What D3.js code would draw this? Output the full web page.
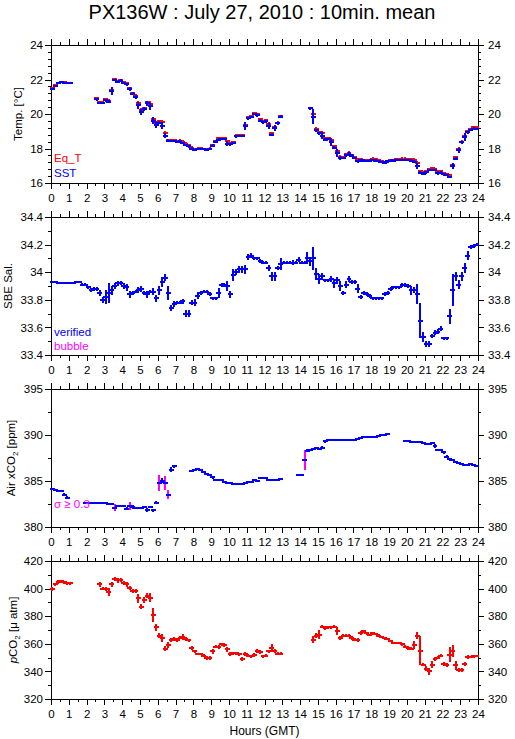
<!DOCTYPE html>
<html>
<head>
<meta charset="utf-8">
<script src="https://cdn.jsdelivr.net/npm/d3@7"></script>
<style>
body { margin: 0; background: #fff; }
svg { display: block; font-family: "Liberation Sans", Arial, Helvetica, sans-serif; }
</style>
</head>
<body>
<svg id="chart"></svg>
<script>
// 10 minute mean slots, 6 per hour, one row per hour (00:00 .. 23:50)
const slotHours = 1 / 6;
const hourLabels = [0,1,2,3,4,5,6,7,8,9,10,11,12,13,14,15,16,17,18,19,20,21,22,23,24];

const tempTicks = [16, 18, 20, 22, 24];
const salTicks = [33.4, 33.6, 33.8, 34, 34.2, 34.4];
const airTicks = [380, 385, 390, 395];
const pco2Ticks = [320, 340, 360, 380, 400, 420];

const eqT = [
  21.50, 21.68, 21.82, 21.88, 21.86, 21.80,
  21.80, null, null, null, null, null,
  null, null, null, 20.92, 20.68, 20.66,
  20.86, 20.78, 21.38, 22.02, 21.90, 21.98,
  21.85, 21.80, 21.50, 21.22, 21.05, 20.62,
  20.25, 20.32, 20.68, 20.60, 19.72, 19.48,
  19.60, 19.55, 18.90, 18.50, 18.48, 18.50,
  18.45, 18.46, 18.40, 18.28, 18.20, 18.05,
  17.98, 18.00, 18.02, 17.98, 17.98, 18.00,
  18.20, 18.45, 18.58, 18.60, 18.58, 18.42,
  18.30, 18.35, 18.75, 18.78, 18.80, 19.38,
  19.80, 19.86, 20.05, 20.00, 19.70, 19.60,
  19.65, 19.40, 18.90, 19.25, 19.50, 19.90,
  null, null, null, null, null, null,
  null, null, null, 20.36, 20.00, 19.15,
  18.95, 18.92, 18.60, 18.62, 18.48, 18.12,
  17.85, 17.52, 17.50, 17.68, 17.75, 17.62,
  17.50, 17.35, 17.40, 17.35, 17.32, 17.36,
  17.42, 17.38, 17.32, 17.28, 17.24, 17.30,
  17.34, 17.36, 17.40, 17.40, 17.42, 17.42,
  17.40, 17.38, 17.35, 17.18, 16.70, 16.62,
  16.68, 16.82, 16.85, 16.82, 16.65, 16.68,
  16.58, 16.52, 16.45, 17.05, 17.48, 17.95,
  18.40, 18.72, 19.00, 19.15, 19.22, 19.25
];
const eqTSd = [
  .04, .04, .03, .03, .03, .03,
  .03, null, null, null, null, null,
  null, null, null, .04, .04, .04,
  .04, .05, .10, .04, .04, .04,
  .04, .04, .06, .05, .06, .10,
  .08, .06, .06, .10, .10, .08,
  .05, .10, .08, .04, .04, .04,
  .04, .04, .04, .04, .04, .04,
  .03, .03, .03, .03, .03, .03,
  .05, .04, .04, .03, .03, .06,
  .05, .04, .04, .04, .04, .10,
  .05, .04, .04, .04, .05, .04,
  .04, .08, .05, .08, .05, .04,
  null, null, null, null, null, null,
  null, null, null, .04, .15, .05,
  .05, .08, .04, .04, .08, .05,
  .10, .05, .04, .05, .05, .04,
  .04, .05, .04, .04, .03, .03,
  .03, .03, .03, .03, .03, .03,
  .03, .03, .03, .03, .03, .03,
  .03, .03, .05, .08, .05, .05,
  .04, .04, .03, .03, .05, .03,
  .03, .03, .04, .08, .06, .08,
  .05, .10, .05, .03, .03, .03
];
const sst = [
  21.45, 21.62, 21.78, 21.85, 21.82, 21.78,
  21.78, null, null, null, null, null,
  null, null, null, 20.85, 20.63, 20.63,
  20.80, 20.72, 21.35, 21.97, 21.85, 21.93,
  21.78, 21.72, 21.45, 21.18, 20.98, 20.50,
  20.10, 20.28, 20.62, 20.45, 19.62, 19.35,
  19.50, 19.32, 18.75, 18.45, 18.43, 18.45,
  18.38, 18.42, 18.33, 18.20, 18.12, 18.00,
  17.92, 17.95, 17.97, 17.95, 17.92, 17.97,
  18.15, 18.40, 18.52, 18.57, 18.55, 18.28,
  18.25, 18.32, 18.70, 18.72, 18.72, 19.30,
  19.75, 19.82, 20.00, 19.93, 19.62, 19.52,
  19.58, 19.30, 18.80, 19.20, 19.45, 19.85,
  null, null, null, null, null, null,
  null, null, null, 20.32, 19.85, 19.05,
  18.88, 18.75, 18.52, 18.55, 18.35, 18.05,
  17.75, 17.45, 17.45, 17.62, 17.68, 17.58,
  17.45, 17.25, 17.32, 17.30, 17.28, 17.30,
  17.35, 17.30, 17.25, 17.20, 17.18, 17.25,
  17.30, 17.30, 17.32, 17.33, 17.35, 17.35,
  17.33, 17.30, 17.22, 17.00, 16.60, 16.55,
  16.62, 16.75, 16.75, 16.75, 16.58, 16.60,
  16.50, 16.45, 16.35, 17.00, 17.42, 17.90,
  18.35, 18.68, 18.95, 19.08, 19.15, 19.15
];
const sstSd = [
  .05, .05, .04, .03, .03, .03,
  .03, null, null, null, null, null,
  null, null, null, .04, .05, .04,
  .05, .06, .20, .04, .05, .05,
  .04, .05, .08, .06, .08, .18,
  .14, .08, .10, .18, .18, .15,
  .06, .18, .12, .05, .04, .04,
  .04, .05, .04, .05, .04, .04,
  .04, .03, .03, .03, .03, .04,
  .06, .05, .04, .03, .03, .10,
  .06, .05, .05, .05, .05, .18,
  .06, .05, .05, .05, .06, .05,
  .05, .15, .06, .15, .06, .05,
  null, null, null, null, null, null,
  null, null, null, .05, .42, .06,
  .06, .15, .05, .05, .15, .06,
  .20, .06, .05, .06, .06, .05,
  .05, .06, .05, .05, .04, .04,
  .04, .04, .04, .04, .04, .04,
  .04, .04, .04, .04, .04, .04,
  .04, .04, .06, .15, .06, .08,
  .05, .05, .04, .04, .06, .04,
  .04, .04, .05, .15, .08, .12,
  .06, .20, .06, .04, .04, .03
];

const sal = [
  33.93, 33.93, 33.92, 33.92, 33.92, 33.92,
  33.92, 33.92, 33.93, 33.93, 33.91, 33.91,
  33.89, 33.87, 33.88, 33.88, 33.85, 33.80,
  33.82, 33.85, 33.87, 33.90, 33.92, 33.92,
  33.90, 33.89, 33.84, 33.85, 33.86, 33.87,
  33.88, 33.85, 33.84, 33.86, 33.86, 33.81,
  33.87, 33.93, 33.96, 33.85, 33.74, 33.77,
  33.78, 33.78, 33.79, 33.70, 33.70, 33.78,
  33.78, 33.83, 33.85, 33.86, 33.86, 33.84,
  33.81, 33.81, 33.85, 33.91, 33.91, 33.90,
  33.84, 33.98, 34.00, 34.02, 34.02, 34.02,
  34.11, 34.12, 34.10, 34.10, 34.08, 34.07,
  34.07, 34.03, 33.97, 33.97, 34.03, 34.06,
  34.07, 34.07, 34.07, 34.07, 34.07, 34.09,
  34.07, 34.07, 34.10, 34.08, 34.10, 33.99,
  33.95, 33.97, 33.94, 33.94, 33.95, 33.92,
  33.94, 33.90, 33.85, 33.91, 33.95, 33.93,
  33.93, 33.88, 33.82, 33.85, 33.84, 33.83,
  33.81, 33.81, 33.81, 33.81, 33.84, 33.85,
  33.88, 33.89, 33.89, 33.89, 33.91, 33.91,
  33.90, 33.87, 33.87, 33.84, 33.65, 33.53,
  33.48, 33.48, 33.54, 33.56, 33.57, 33.59,
  33.52, 33.52, 33.68, 33.87, 33.97, 33.91,
  33.97, 34.03, 34.12, 34.18, 34.19, 34.20
];
const salSd = [
  .005, .005, .005, .005, .005, .005,
  .005, .005, .005, .005, .005, .005,
  .008, .010, .010, .010, .020, .020,
  .050, .070, .030, .020, .015, .010,
  .020, .020, .020, .010, .010, .020,
  .020, .010, .020, .010, .020, .020,
  .030, .030, .020, .050, .020, .020,
  .010, .010, .015, .020, .020, .015,
  .020, .020, .010, .005, .005, .010,
  .010, .010, .030, .010, .010, .030,
  .020, .040, .020, .020, .020, .030,
  .020, .015, .010, .010, .010, .010,
  .010, .020, .030, .030, .010, .040,
  .010, .010, .010, .015, .010, .015,
  .010, .010, .040, .030, .080, .040,
  .030, .020, .010, .010, .020, .030,
  .020, .030, .010, .020, .020, .010,
  .010, .030, .010, .010, .010, .010,
  .005, .005, .005, .005, .010, .010,
  .010, .005, .005, .005, .010, .010,
  .010, .030, .020, .070, .120, .030,
  .020, .020, .010, .015, .015, .015,
  .010, .010, .050, .110, .030, .030,
  .030, .030, .030, .010, .010, .005
];

const airCO2 = [
  384.10, 384.00, 383.95, 383.90, 383.50, 383.20,
  null, null, null, null, null, 382.65,
  382.65, 382.65, 382.65, 382.60, 382.65, 382.60,
  382.60, 382.55, 382.55, 382.10, 382.30, 382.30,
  382.25, 382.00, 382.30, 382.20, 382.05, 382.05,
  382.05, 382.20, 381.85, 382.15, 381.80, 382.65,
  384.75, 385.05, 384.75, 383.50, 386.25, 386.60,
  null, null, null, null, null, 386.10,
  386.20, 386.30, 386.20, 386.00, 385.80, 385.70,
  385.40, 385.15, 385.10, 385.10, 384.90, 384.80,
  384.75, 384.65, 384.65, 384.65, 384.70, 384.80,
  384.85, 384.90, 385.10, 385.05, 385.30, 385.30,
  385.30, 385.15, 385.15, 385.10, 385.15, 385.20,
  null, null, null, null, null, 385.65,
  385.65, 387.30, 388.30, 388.40, 388.45, 388.55,
  388.50, 388.60, 389.30, 389.45, 389.45, 389.50,
  389.50, 389.45, 389.45, 389.45, 389.45, 389.45,
  389.50, 389.55, 389.70, 389.75, 389.75, 389.75,
  389.75, 389.80, 389.85, 389.95, 390.05, 390.10,
  null, null, null, null, null, 389.30,
  389.30, 389.25, 389.20, 389.20, 389.20, 389.15,
  389.00, 389.00, 389.10, 388.80, 388.35, 388.35,
  388.10, 387.65, 387.35, 387.30, 387.10, 386.95,
  386.90, 386.75, 386.75, 386.80, 386.70, 386.65
];
const airSd = [
  .05, .05, .05, .05, .12, .12,
  null, null, null, null, null, .05,
  .04, .04, .04, .04, .04, .04,
  .04, .04, .04, .35, .08, .06,
  .05, .15, .40, .15, .05, .05,
  .05, .08, .12, .08, .15, .08,
  .80, .20, .70, .45, .20, .10,
  null, null, null, null, null, .05,
  .05, .08, .05, .05, .05, .05,
  .08, .05, .04, .04, .04, .04,
  .04, .04, .04, .04, .04, .04,
  .04, .04, .05, .04, .05, .04,
  .04, .04, .05, .04, .04, .05,
  null, null, null, null, null, .04,
  .04, 1.05, .08, .06, .08, .06,
  .05, .10, .10, .05, .04, .04,
  .04, .04, .04, .04, .04, .04,
  .04, .04, .04, .04, .04, .04,
  .04, .04, .05, .05, .05, .05,
  null, null, null, null, null, .05,
  .05, .04, .04, .04, .04, .04,
  .04, .04, .05, .18, .06, .05,
  .10, .12, .08, .06, .05, .05,
  .05, .05, .05, .05, .05, .05
];

const pCO2 = [
  399.5, 403.0, 404.8, 405.2, 404.5, 403.8,
  403.8, null, null, null, null, null,
  null, null, null, null, 403.0, 400.0,
  399.8, 397.5, 403.0, 407.0, 406.0, 406.5,
  404.0, 403.0, 400.5, 398.5, 398.0, 393.0,
  387.0, 391.5, 395.0, 393.5, 381.0, 372.0,
  366.0, 364.5, 356.5, 359.0, 363.0, 363.5,
  363.0, 364.5, 365.0, 363.5, 362.5, 357.0,
  354.5, 352.5, 352.5, 351.5, 349.5, 349.8,
  354.5, 358.0, 357.5, 359.5, 359.0, 356.0,
  352.5, 353.0, 353.0, 352.5, 349.0, 352.5,
  351.5, 351.0, 352.0, 355.0, 354.0, 351.0,
  351.5, 354.5, 357.0, 355.0, 352.8, 352.8,
  null, null, null, null, null, null,
  null, null, null, null, 363.0, 366.0,
  366.5, 372.5, 371.5, 372.0, 372.0, 372.5,
  369.5, 364.0, 366.0, 366.0, 366.0, 364.0,
  363.0, 363.0, 368.0, 369.0, 367.5, 366.5,
  367.5, 367.0, 366.0, 365.0, 364.0, 363.5,
  362.0, 360.5, 360.5, 360.5, 359.5, 358.0,
  357.0, 356.5, 359.0, 366.0, 355.0, 345.0,
  342.0, 340.0, 345.0, 349.0, 350.0, 351.5,
  345.5, 344.5, 352.0, 354.5, 344.5, 341.0,
  341.0, 345.5, 350.5, 350.5, 351.0, 351.0
];
const pCO2Sd = [
  1.0, 1.0, 0.8, 0.8, 0.6, 0.6,
  0.6, null, null, null, null, null,
  null, null, null, null, 1.2, 1.0,
  1.0, 2.5, 1.2, 1.2, 1.4, 1.0,
  1.0, 1.2, 1.0, 1.0, 1.0, 2.8,
  1.4, 1.8, 1.5, 2.8, 4.5, 2.0,
  1.2, 2.5, 1.4, 2.0, 1.0, 1.0,
  1.0, 1.0, 1.8, 1.0, 0.8, 1.2,
  0.8, 0.6, 0.6, 0.6, 1.0, 1.2,
  1.2, 1.0, 1.0, 1.0, 1.0, 1.5,
  1.0, 0.8, 0.8, 0.8, 1.0, 1.0,
  0.8, 0.8, 1.0, 1.2, 1.0, 0.8,
  1.0, 1.0, 2.5, 1.2, 0.8, 0.8,
  null, null, null, null, null, null,
  null, null, null, null, 2.0, 1.2,
  2.8, 0.8, 0.8, 0.6, 0.6, 0.8,
  2.5, 1.0, 0.8, 0.8, 1.0, 1.0,
  0.8, 1.2, 1.0, 0.8, 0.6, 0.6,
  0.6, 0.6, 0.6, 0.6, 0.6, 0.6,
  0.6, 0.6, 0.6, 0.6, 0.6, 0.8,
  0.8, 0.8, 2.5, 2.0, 10.0, 1.0,
  1.5, 2.0, 2.5, 1.2, 1.0, 1.0,
  1.2, 1.0, 5.0, 4.0, 3.0, 1.2,
  1.0, 1.2, 1.0, 0.6, 0.6, 0.5
];

const svgWidth = 515, svgHeight = 739;
const plotLeft = 51, plotRight = 478;
const panelTop = 45, panelStep = 172, panelHeight = 138;
const BLUE = "#0000ff", RED = "#ff0000", MAGENTA = "#ff00ff";
const bubbleSigma = 0.3;

const chart = d3.select("#chart")
  .attr("width", svgWidth)
  .attr("height", svgHeight);

const x = d3.scaleLinear().domain([0, 24]).range([plotLeft, plotRight]);

chart.append("text")
  .attr("x", 262)
  .attr("y", 18.5)
  .attr("text-anchor", "middle")
  .attr("font-size", 20)
  .text("PX136W : July 27, 2010 : 10min. mean");

// panel descriptions built from the arrays above
const panels = [
  { ticks: tempTicks, minor: 0.4, labelX: 21.5, label: "temp",
    series: [ { v: eqT, s: eqTSd, color: RED }, { v: sst, s: sstSd, color: BLUE } ],
    legend: [ { text: "Eq_T", color: RED, y: 161.5 }, { text: "SST", color: BLUE, y: 177 } ] },
  { ticks: salTicks, minor: 0.1, labelX: 11.5, label: "sal",
    series: [ { v: sal, s: salSd, color: BLUE } ],
    legend: [ { text: "verified", color: BLUE, y: 336 }, { text: "bubble", color: MAGENTA, y: 350 } ] },
  { ticks: airTicks, minor: 2.5, labelX: 14.5, label: "air",
    series: [ { v: airCO2, s: airSd, color: BLUE, bubble: MAGENTA } ],
    legend: [ { text: "\u03c3 \u2265 0.3", color: MAGENTA, y: 508 } ] },
  { ticks: pco2Ticks, minor: 10, labelX: 16.5, label: "pco2",
    series: [ { v: pCO2, s: pCO2Sd, color: RED } ],
    legend: [] }
];

function minorTicks(ticks, step) {
  const lo = d3.min(ticks), hi = d3.max(ticks);
  const n = Math.round((hi - lo) / step);
  return d3.range(n + 1).map(i => +(lo + i * step).toFixed(4));
}

const hourMinor = d3.range(49).map(i => i / 2);

panels.forEach(function(p, i) {
  const top = panelTop + i * panelStep;
  const y = d3.scaleLinear()
    .domain(d3.extent(p.ticks))
    .range([top + panelHeight, top]);

  const g = chart.append("g");
  const fmt = d => String(+d.toFixed(2));

  // axes: major ticks with labels, minor ticks without
  const axisDefs = [
    { make: d3.axisBottom, scale: x, t: `translate(0,${top + panelHeight})`, major: hourLabels, minor: hourMinor, pad: 5, labels: true },
    { make: d3.axisTop, scale: x, t: `translate(0,${top})`, major: hourLabels, minor: hourMinor, pad: 3, labels: false },
    { make: d3.axisLeft, scale: y, t: `translate(${plotLeft},0)`, major: p.ticks, minor: minorTicks(p.ticks, p.minor), pad: 2, labels: true },
    { make: d3.axisRight, scale: y, t: `translate(${plotRight},0)`, major: p.ticks, minor: minorTicks(p.ticks, p.minor), pad: 4, labels: true }
  ];
  axisDefs.forEach(function(a) {
    const minorAxis = a.make(a.scale).tickValues(a.minor).tickSize(3).tickSizeOuter(0).tickFormat("");
    const majorAxis = a.make(a.scale).tickValues(a.major).tickSize(6).tickSizeOuter(0)
      .tickPadding(a.pad).tickFormat(a.labels ? fmt : "");
    [minorAxis, majorAxis].forEach(function(ax) {
      const ga = g.append("g").attr("transform", a.t).call(ax);
      ga.select(".domain").remove();
      ga.attr("font-family", null).attr("font-size", 11.5);
      ga.selectAll("line").attr("shape-rendering", "crispEdges");
      ga.selectAll("text").attr("fill", "#000");
    });
  });

  g.append("rect")
    .attr("x", plotLeft + 0.5)
    .attr("y", top + 0.5)
    .attr("width", plotRight - plotLeft)
    .attr("height", panelHeight)
    .attr("fill", "none")
    .attr("stroke", "#000")
    .attr("stroke-width", 1)
    .attr("shape-rendering", "crispEdges");

  // y axis title
  const yl = g.append("text")
    .attr("transform", `translate(${p.labelX},${top + panelHeight / 2}) rotate(-90)`)
    .attr("text-anchor", "middle")
    .attr("font-size", 11.5);
  if (p.label === "temp") {
    yl.text("Temp. [\u00b0C]");
  } else if (p.label === "sal") {
    yl.text("SBE Sal.");
  } else if (p.label === "air") {
    yl.append("tspan").text("Air xCO");
    yl.append("tspan").attr("font-size", 8).attr("dy", 3).text("2");
    yl.append("tspan").attr("dy", -3).text(" [ppm]");
  } else {
    yl.append("tspan").attr("font-style", "italic").text("p");
    yl.append("tspan").text("CO");
    yl.append("tspan").attr("font-size", 8).attr("dy", 3).text("2");
    yl.append("tspan").attr("dy", -3).text(" [\u03bc atm]");
  }

  // data marks: 10 min step segment + sigma bar
  p.series.forEach(function(s) {
    const pts = s.v.map((v, k) => ({ k: k, v: v, sd: s.s[k] })).filter(d => d.v != null);
    const sg = g.append("g").attr("shape-rendering", "crispEdges");
    sg.selectAll("line.sd").data(pts).join("line")
      .attr("class", "sd")
      .attr("x1", d => x((d.k + 0.5) * slotHours))
      .attr("x2", d => x((d.k + 0.5) * slotHours))
      .attr("y1", d => y(d.v - d.sd) + 0.5)
      .attr("y2", d => y(d.v + d.sd) - 0.5)
      .attr("stroke", d => (s.bubble && d.sd >= bubbleSigma) ? s.bubble : s.color)
      .attr("stroke-width", 2);
    sg.selectAll("line.mean").data(pts).join("line")
      .attr("class", "mean")
      .attr("x1", d => x(d.k * slotHours) - 1)
      .attr("x2", d => x((d.k + 1) * slotHours) + 1)
      .attr("y1", d => y(d.v))
      .attr("y2", d => y(d.v))
      .attr("stroke", s.color)
      .attr("stroke-width", 2);
  });

  g.selectAll("text.legend").data(p.legend).join("text")
    .attr("class", "legend")
    .attr("x", 54)
    .attr("y", d => d.y)
    .attr("font-size", 11.5)
    .attr("fill", d => d.color)
    .text(d => d.text);
});

chart.append("text")
  .attr("x", (plotLeft + plotRight) / 2)
  .attr("y", 735)
  .attr("text-anchor", "middle")
  .attr("font-size", 12)
  .text("Hours (GMT)");
</script>
</body>
</html>
